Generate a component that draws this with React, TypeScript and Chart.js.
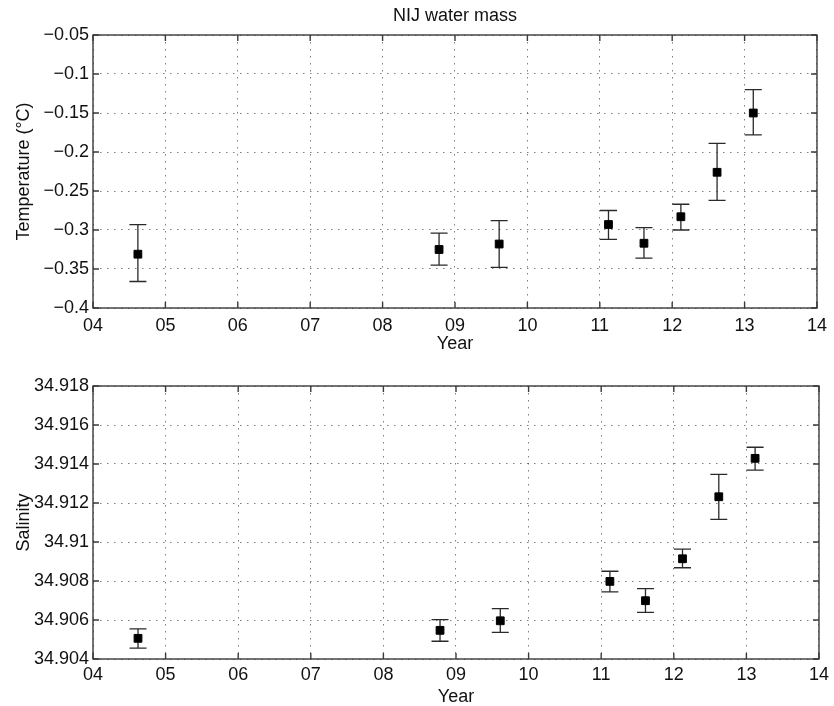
import React, { useEffect, useRef } from "react";
import { Chart, registerables } from "chart.js";
Chart.register(...registerables);

const FONT = "'Liberation Sans', Arial, Helvetica, sans-serif";

const years = [4.62, 8.78, 9.61, 11.12, 11.61, 12.12, 12.62, 13.12];
const temp = [-0.331, -0.325, -0.318, -0.293, -0.317, -0.283, -0.226, -0.15];
const tempLow = [-0.366, -0.345, -0.348, -0.312, -0.336, -0.3, -0.262, -0.178];
const tempHigh = [-0.293, -0.304, -0.288, -0.275, -0.297, -0.267, -0.189, -0.12];
const sal = [34.90506, 34.90547, 34.90596, 34.90798, 34.90699, 34.90914, 34.91232, 34.91429];
const salLow = [34.90456, 34.90491, 34.90537, 34.90744, 34.90639, 34.90868, 34.91116, 34.91369];
const salHigh = [34.90555, 34.90602, 34.90658, 34.9085, 34.90761, 34.90963, 34.91347, 34.91486];

const yearTicks = [4, 5, 6, 7, 8, 9, 10, 11, 12, 13, 14];
const tempTicks = [-0.4, -0.35, -0.3, -0.25, -0.2, -0.15, -0.1, -0.05];
const salTicks = [34.904, 34.906, 34.908, 34.91, 34.912, 34.914, 34.916, 34.918];

const chartTitle = "NIJ water mass";
const xTitle = "Year";
const tempTitle = "Temperature (\u00B0C)";
const salTitle = "Salinity";

type PanelSpec = {
  values: number[];
  low: number[];
  high: number[];
  yTicks: number[];
  yDigits: number;
  yTitle: string;
  title?: string;
  padTop: number;
  xHeight: number;
  xTickPad: number;
  xTitlePad: number;
};

function makePlugin(spec: PanelSpec) {
  return {
    id: "matlabStyle",
    beforeDatasetsDraw(chart: any) {
      const { ctx, scales } = chart;
      const x = scales.x, y = scales.y;
      ctx.save();
      ctx.strokeStyle = "#2a2a2a";
      ctx.lineWidth = 1.3;
      ctx.setLineDash([]);
      for (let i = 0; i < years.length; i++) {
        const px = x.getPixelForValue(years[i]);
        const pl = y.getPixelForValue(spec.low[i]);
        const ph = y.getPixelForValue(spec.high[i]);
        ctx.beginPath();
        ctx.moveTo(px, pl);
        ctx.lineTo(px, ph);
        ctx.moveTo(px - 8.5, pl);
        ctx.lineTo(px + 8.5, pl);
        ctx.moveTo(px - 8.5, ph);
        ctx.lineTo(px + 8.5, ph);
        ctx.stroke();
      }
      ctx.restore();
    },
    afterDraw(chart: any) {
      const { ctx, chartArea, scales } = chart;
      const { left, right, top, bottom } = chartArea;
      const x = scales.x, y = scales.y;
      ctx.save();
      ctx.setLineDash([]);
      ctx.strokeStyle = "#3a3a3a";
      ctx.lineWidth = 1.4;
      const tl = 6;
      ctx.beginPath();
      x.ticks.forEach((t: any) => {
        const px = x.getPixelForValue(t.value);
        ctx.moveTo(px, bottom);
        ctx.lineTo(px, bottom - tl);
        ctx.moveTo(px, top);
        ctx.lineTo(px, top + tl);
      });
      y.ticks.forEach((t: any) => {
        const py = y.getPixelForValue(t.value);
        ctx.moveTo(left, py);
        ctx.lineTo(left + tl, py);
        ctx.moveTo(right, py);
        ctx.lineTo(right - tl, py);
      });
      ctx.stroke();
      ctx.strokeRect(left, top, right - left, bottom - top);
      if (spec.title) {
        ctx.fillStyle = "#111";
        ctx.font = `18px ${FONT}`;
        ctx.textAlign = "center";
        ctx.textBaseline = "middle";
        ctx.fillText(spec.title, (left + right) / 2, 16);
      }
      ctx.restore();
    },
  };
}

function Panel({ spec, top }: { spec: PanelSpec; top: number }) {
  const ref = useRef<HTMLCanvasElement>(null);
  useEffect(() => {
    const gridCommon = {
      color: "rgba(0,0,0,0.5)",
      lineWidth: 1,
      drawTicks: false,
    };
    const chart = new Chart(ref.current as HTMLCanvasElement, {
      type: "scatter",
      data: {
        datasets: [
          {
            data: years.map((yr, i) => ({ x: yr, y: spec.values[i] })),
            pointStyle: "rect",
            pointRadius: 5.5,
            pointBackgroundColor: "#000",
            pointBorderColor: "#000",
            pointBorderWidth: 1,
            showLine: false,
          },
        ],
      },
      options: {
        animation: false,
        responsive: true,
        maintainAspectRatio: false,
        layout: { padding: { left: 0, right: 12, top: spec.padTop, bottom: 0 } },
        plugins: {
          legend: { display: false },
          tooltip: { enabled: false },
        },
        scales: {
          x: {
            type: "linear",
            min: 4,
            max: 14,
            afterBuildTicks: (s: any) => {
              s.ticks = yearTicks.map((v) => ({ value: v }));
            },
            afterFit: (s: any) => {
              s.height = spec.xHeight;
            },
            grid: gridCommon,
            border: { display: false, dash: [1.5, 5.5] },
            ticks: {
              color: "#111",
              font: { family: FONT, size: 18 },
              padding: spec.xTickPad,
              maxRotation: 0,
              autoSkip: false,
              callback: (v: any) => String(Math.round(Number(v))).padStart(2, "0"),
            },
            title: {
              display: true,
              text: xTitle,
              color: "#111",
              font: { family: FONT, size: 18, lineHeight: 1 },
              padding: { top: 0, bottom: spec.xTitlePad },
            },
          },
          y: {
            type: "linear",
            min: spec.yTicks[0],
            max: spec.yTicks[spec.yTicks.length - 1],
            afterBuildTicks: (s: any) => {
              s.ticks = spec.yTicks.map((v) => ({ value: v }));
            },
            afterFit: (s: any) => {
              s.width = 93;
            },
            grid: gridCommon,
            border: { display: false, dash: [1.5, 5.5] },
            ticks: {
              color: "#111",
              font: { family: FONT, size: 18 },
              padding: 4,
              autoSkip: false,
              callback: (v: any) =>
                String(Number(Number(v).toFixed(spec.yDigits))).replace("-", "\u2212"),
            },
            title: {
              display: true,
              text: spec.yTitle,
              color: "#111",
              font: { family: FONT, size: 18, lineHeight: 1 },
              padding: { top: 15, bottom: 0 },
            },
          },
        },
      } as any,
      plugins: [makePlugin(spec)],
    });
    return () => chart.destroy();
  }, []);
  return (
    <div style={{ position: "absolute", left: 0, top, width: 834, height: 353 }}>
      <canvas ref={ref} />
    </div>
  );
}

const topSpec: PanelSpec = {
  values: temp,
  low: tempLow,
  high: tempHigh,
  yTicks: tempTicks,
  yDigits: 2,
  yTitle: tempTitle,
  title: chartTitle,
  padTop: 35,
  xHeight: 45,
  xTickPad: 7,
  xTitlePad: 0,
};

const bottomSpec: PanelSpec = {
  values: sal,
  low: salLow,
  high: salHigh,
  yTicks: salTicks,
  yDigits: 3,
  yTitle: salTitle,
  padTop: 33,
  xHeight: 47,
  xTickPad: 5,
  xTitlePad: 0,
};

export default function App() {
  return (
    <div style={{ position: "absolute", left: 0, top: 0, width: 834, height: 706, background: "#fff" }}>
      <Panel spec={topSpec} top={0} />
      <Panel spec={bottomSpec} top={353} />
    </div>
  );
}
